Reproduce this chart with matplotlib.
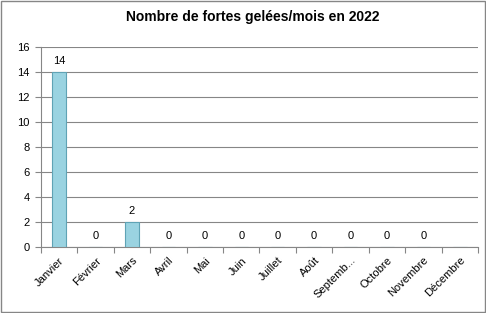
import numpy as np
import matplotlib.pyplot as plt
from matplotlib.patches import Rectangle

# Données
mois = ['Janvier', 'Février', 'Mars', 'Avril', 'Mai', 'Juin', 'Juillet',
        'Août', 'Septemb...', 'Octobre', 'Novembre', 'Décembre']
gelees = [14, 0, 2, 0, 0, 0, 0, 0, 0, 0, 0, np.nan]
yticks = [0, 2, 4, 6, 8, 10, 12, 14, 16]

plt.rcParams['font.family'] = ['Liberation Sans', 'DejaVu Sans']

fig = plt.figure(figsize=(4.86, 3.13), dpi=100)
ax = fig.add_axes([0.0844, 0.2109, 0.8991, 0.6389])

x = np.arange(len(mois))
vals = np.nan_to_num(gelees)
ax.bar(x, vals, width=0.37, color='#9AD3E1', edgecolor='#5FA3B5', linewidth=0.8, zorder=3)

# étiquettes de valeurs
for xi, v in zip(x, gelees):
    if np.isnan(v):
        continue
    ax.text(xi, v + 0.5, '%d' % v, ha='center', va='bottom', fontsize=8, zorder=4)

ax.set_xlim(-0.5, len(mois) - 0.5)
ax.set_ylim(0, 16)
ax.set_yticks(yticks)
ax.tick_params(axis='y', length=4, labelsize=8, color='#868686', pad=4)
ax.set_xticks(np.arange(len(mois) + 1) - 0.5, minor=False)
ax.set_xticklabels([''] * (len(mois) + 1))
ax.tick_params(axis='x', length=4, color='#868686')
ax.set_xticks(x, minor=True)
ax.set_xticklabels(mois, minor=True, rotation=45, ha='right', rotation_mode='anchor', fontsize=8)
ax.tick_params(axis='x', which='minor', length=0, pad=6)

ax.grid(axis='y', color='#868686', linewidth=0.8, zorder=0)
for s in ['top', 'right']:
    ax.spines[s].set_visible(False)
for s in ['left', 'bottom']:
    ax.spines[s].set_color('#868686')

fig.text(0.52, 0.945, 'Nombre de fortes gelées/mois en 2022', ha='center', va='center',
         fontsize=10, fontweight='bold')

fig.patches.append(Rectangle((0.003, 0.004), 0.994, 0.992, transform=fig.transFigure,
                             fill=False, edgecolor='#868686', linewidth=1))

fig.savefig('out.png', dpi=100)
